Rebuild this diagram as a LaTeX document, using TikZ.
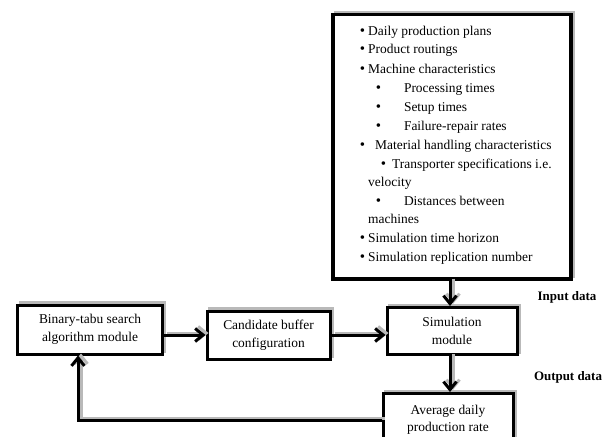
\documentclass[tikz,border=0pt]{standalone}
\usepackage{fontspec}
\setmainfont{Liberation Serif}
\usetikzlibrary{arrows.meta}
\newcommand{\bitem}[2]{{\fontsize{15}{16}\selectfont\textbullet}\hspace{#1bp}#2}
\begin{document}
\begin{tikzpicture}[x=1bp,y=-1bp,
  box/.style={draw=black, line width=3bp, fill=white, align=center, inner sep=0pt,
    font=\fontsize{13.5}{17.5}\selectfont,
    preaction={draw=gray!55, line width=3bp, transform canvas={shift={(2.5bp,2.5bp)}}}},
  li/.style={anchor=base west, inner sep=0pt, font=\fontsize{13.5}{16}\selectfont},
  lab/.style={inner sep=0pt, font=\fontsize{13}{15}\selectfont\bfseries},
  conn/.style={line width=3bp, -{Straight Barb[length=8bp,width=13bp]}},
  connshadow/.style={conn, draw=gray!55}]
\useasboundingbox (0,0) rectangle (612,437);
\clip (0,0) rectangle (612,437);
% input box
\node[box, line width=3.5bp, minimum width=238bp, minimum height=264bp, anchor=north west] (inp) at (331,13) {};
\node[li] (l1) at (359.6,36) {\bitem{3.2}{Daily production plans}};
\node[li] (l2) at (359.6,54) {\bitem{3.2}{Product routings}};
\node[li] (l3) at (359.6,74) {\bitem{3.2}{Machine characteristics}};
\node[li] (l4) at (375.6,93) {\bitem{23}{Processing times}};
\node[li] (l5) at (375.6,112) {\bitem{23}{Setup times}};
\node[li] (l6) at (375.6,131) {\bitem{23}{Failure-repair rates}};
\node[li] (l7) at (359.6,150) {\bitem{10.2}{Material handling characteristics}};
\node[li] (l8) at (380.6,169) {\bitem{6.2}{Transporter specifications i.e.}};
\node[li] (l9) at (368,187) {velocity};
\node[li] (l10) at (375.6,206) {\bitem{23}{Distances between}};
\node[li] (l11) at (368,224) {machines};
\node[li] (l12) at (359.6,243) {\bitem{3.2}{Simulation time horizon}};
\node[li] (l13) at (359.6,262) {\bitem{3.2}{Simulation replication number}};
% modules
\node[box, minimum width=144bp, minimum height=49bp] (bin) at (90,329.5) {Binary-tabu search\\algorithm module};
\node[box, minimum width=123bp, minimum height=48bp] (cand) at (268.5,335) {Candidate buffer\\configuration};
\node[box, minimum width=130bp, minimum height=47bp] (sim) at (452,331) {Simulation\\module};
\node[box, minimum width=130bp, minimum height=52bp, anchor=north] (avg) at (448,392) {Average daily\\production rate};
% labels
\node[lab] (indata) at (567,297) {Input data};
\node[lab] (outdata) at (568,377) {Output data};
% connectors
\coordinate (fb) at (78,420);
\coordinate (ax) at (450,0);
\begin{scope}[transform canvas={shift={(3bp,2bp)}}]
\draw[connshadow] (inp.south -| ax) -- (ax |- sim.north);
\draw[connshadow] (ax |- sim.south) -- (ax |- avg.north);
\draw[connshadow] (bin.east |- cand.center) -- (cand.west);
\draw[connshadow] (cand.east) -- (cand.east -| sim.west);
\draw[connshadow] (avg.west |- fb) -- (fb) -- (fb |- bin.south);
\end{scope}
\draw[conn] (inp.south -| ax) -- (ax |- sim.north);
\draw[conn] (ax |- sim.south) -- (ax |- avg.north);
\draw[conn] (bin.east |- cand.center) -- (cand.west);
\draw[conn] (cand.east) -- (cand.east -| sim.west);
\draw[conn] (avg.west |- fb) -- (fb) -- (fb |- bin.south);
\end{tikzpicture}
\end{document}
